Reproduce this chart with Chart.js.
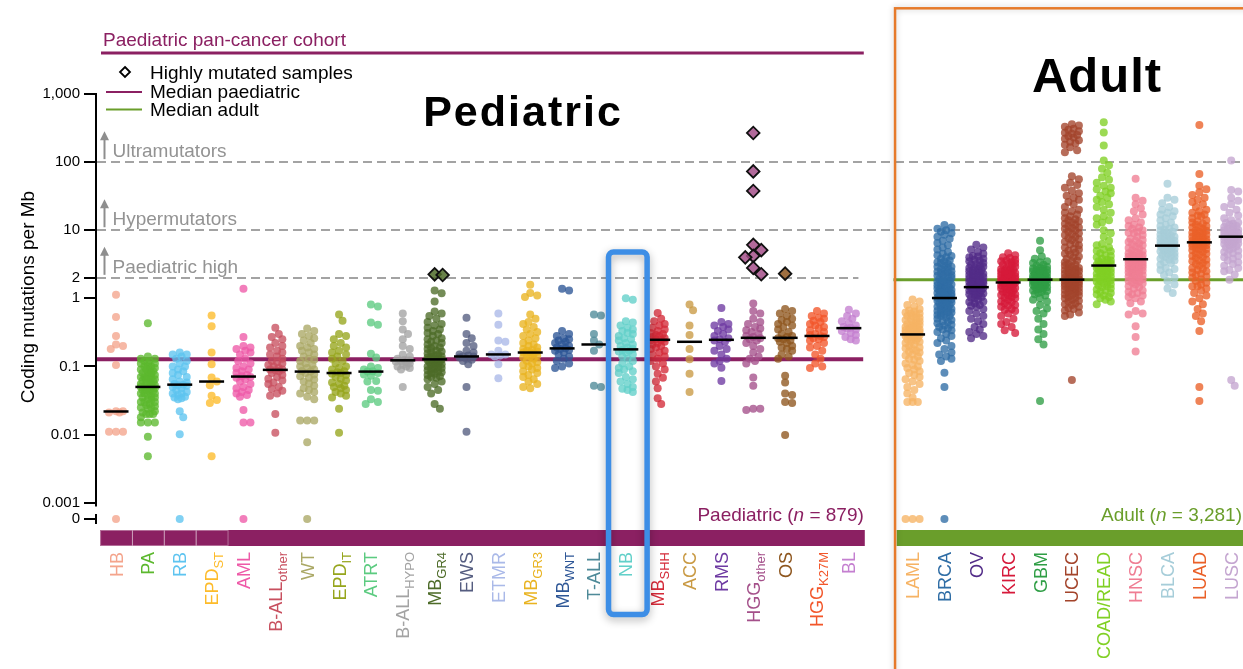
<!DOCTYPE html>
<html>
<head>
<meta charset="utf-8">
<title>Coding mutations per Mb – paediatric vs adult</title>
<script src="https://cdn.jsdelivr.net/npm/chart.js@4.4.1/dist/chart.umd.min.js"></script>
<style>
html,body{margin:0;padding:0;background:#fff;overflow:hidden;}
#wrap{position:relative;width:1243px;height:669px;}
</style>
</head>
<body>
<div id="wrap"><canvas id="chart"></canvas></div>
<script>
// ================= DATA =================
const categories = ['HB','PA','RB','EPD_ST','AML','B-ALL_other','WT','EPD_IT','ATRT','B-ALL_HYPO','MB_GR4','EWS','ETMR','MB_GR3','MB_WNT','T-ALL','NB','MB_SHH','ACC','RMS','HGG_other','OS','HGG_K27M','BL',
  'LAML','BRCA','OV','KIRC','GBM','UCEC','COAD/READ','HNSC','BLCA','LUAD','LUSC'];
const paediatricCount = 24;

const categoryColors = ['#f4a48c','#5cb82e','#5ec4f0','#fdbb2a','#ee5aa8','#c8505f','#aaa865','#96a51c','#5ccb80','#a3a3a3','#4d6b28','#555d80','#aab9e8','#e9b320','#2d5696','#4e8a98','#62d0c9','#d42a38','#c99a44','#6e3aa2','#a4508a','#8e561e','#f2562a','#c47fd0',
  '#f6b364','#2f6da5','#522c88','#d6193a','#2f9e45','#a3442b','#80d024','#ef7d93','#a6cdd9','#ea6028','#c4a5d0'];

// coding mutations per Mb, one array per tumour type (0 = no coding mutation)
const v_HB = [1.13,0.53,0.28,0.21,0.2,0.18,0.105,0.022,0.022,0.021,0.021,0.011,0.011,0.011,0];
const v_PA = [0.43,0.14,0.13,0.13,0.12,0.12,0.11,0.11,0.1,0.1,0.095,0.09,0.09,0.085,0.08,0.08,0.075,0.07,0.07,0.068,0.065,0.062,0.06,0.058,0.055,0.053,0.05,0.05,0.05,0.048,0.046,0.045,0.044,0.042,0.04,0.04,0.038,0.036,0.035,0.033,0.032,0.03,0.03,0.028,0.027,0.026,0.025,0.024,0.022,0.021,0.02,0.02,0.018,0.015,0.015,0.015,0.0093,0.0048,
  0.11,0.1,0.09,0.075,0.065,0.055,0.045,0.035,0.03,0.025,0.02,0.06,0.07,0.08,0.05,0.04];
const v_RB = [0.16,0.15,0.15,0.14,0.13,0.12,0.11,0.1,0.1,0.09,0.085,0.08,0.075,0.07,0.065,0.06,0.058,0.055,0.054,0.053,0.052,0.05,0.048,0.045,0.042,0.04,0.04,0.038,0.036,0.035,0.034,0.033,0.022,0.018,0.0101,0];
const v_EPD_ST = [0.56,0.39,0.16,0.108,0.069,0.06,0.053,0.037,0.032,0.029,0.0048];
const v_AML = [1.38,0.27,0.2,0.19,0.18,0.17,0.16,0.15,0.13,0.12,0.11,0.1,0.095,0.09,0.085,0.08,0.075,0.072,0.07,0.068,0.065,0.06,0.055,0.05,0.048,0.045,0.042,0.04,0.038,0.036,0.023,0.015,0.015,0];
const v_BALL_other = [0.37,0.3,0.27,0.25,0.22,0.2,0.19,0.17,0.16,0.15,0.14,0.13,0.12,0.115,0.11,0.105,0.1,0.095,0.09,0.09,0.088,0.085,0.08,0.075,0.07,0.066,0.062,0.058,0.055,0.05,0.047,0.044,0.04,0.037,0.02,0.0106];
const v_WT = [0.36,0.33,0.3,0.28,0.26,0.24,0.22,0.2,0.19,0.18,0.17,0.16,0.15,0.14,0.13,0.125,0.12,0.11,0.105,0.1,0.095,0.09,0.086,0.084,0.08,0.076,0.072,0.068,0.064,0.06,0.056,0.052,0.048,0.045,0.042,0.04,0.036,0.033,0.016,0.016,0.016,0.0077,0];
const v_EPD_IT = [0.58,0.47,0.3,0.28,0.25,0.22,0.2,0.19,0.17,0.16,0.15,0.14,0.13,0.12,0.11,0.1,0.095,0.09,0.085,0.082,0.08,0.078,0.075,0.07,0.066,0.062,0.058,0.055,0.052,0.05,0.048,0.045,0.042,0.04,0.037,0.035,0.024,0.0106];
const v_ATRT = [0.81,0.76,0.44,0.41,0.154,0.135,0.1,0.095,0.09,0.085,0.084,0.08,0.076,0.073,0.061,0.06,0.045,0.044,0.033,0.03,0.028];
const v_BALL_HYPO = [0.6,0.46,0.35,0.3,0.25,0.2,0.18,0.15,0.14,0.13,0.125,0.123,0.12,0.118,0.115,0.11,0.105,0.1,0.1,0.095,0.09,0.05];
const v_MB_GR4 = [1.3,1.19,0.9,0.64,0.6,0.55,0.5,0.45,0.42,0.4,0.37,0.35,0.33,0.31,0.3,0.28,0.26,0.25,0.24,0.23,0.22,0.21,0.2,0.19,0.185,0.18,0.17,0.165,0.16,0.155,0.15,0.145,0.14,0.14,0.135,0.13,0.13,0.128,0.126,0.124,0.12,0.12,0.118,0.115,0.112,0.11,0.108,0.105,0.1,0.1,0.098,0.095,0.092,0.09,0.088,0.085,0.082,0.08,0.078,0.075,0.072,0.07,0.068,0.065,0.06,0.055,0.05,0.045,0.04,0.028,0.024];
const v_EWS = [0.52,0.3,0.26,0.22,0.2,0.17,0.16,0.15,0.145,0.14,0.14,0.135,0.13,0.125,0.12,0.108,0.05,0.011];
const v_ETMR = [0.6,0.41,0.24,0.23,0.17,0.15,0.15,0.145,0.14,0.108,0.067];
const v_MB_GR3 = [1.58,1.2,1.1,1.05,0.58,0.5,0.45,0.42,0.38,0.35,0.32,0.3,0.28,0.26,0.24,0.22,0.21,0.2,0.19,0.18,0.175,0.17,0.165,0.16,0.16,0.155,0.15,0.145,0.14,0.135,0.13,0.12,0.115,0.11,0.105,0.1,0.095,0.09,0.085,0.08,0.075,0.07,0.065,0.06,0.055,0.05,0.048];
const v_MB_WNT = [1.38,1.3,0.33,0.3,0.28,0.26,0.25,0.24,0.23,0.22,0.21,0.2,0.19,0.185,0.18,0.175,0.17,0.16,0.15,0.14,0.13,0.12,0.11,0.1,0.095];
const v_TALL = [0.58,0.56,0.3,0.24,0.21,0.17,0.052,0.05];
const v_NB = [1.0,0.95,0.46,0.44,0.4,0.37,0.35,0.33,0.31,0.3,0.28,0.26,0.25,0.24,0.22,0.21,0.2,0.19,0.18,0.175,0.17,0.165,0.16,0.15,0.14,0.13,0.12,0.11,0.1,0.095,0.09,0.085,0.08,0.07,0.065,0.06,0.055,0.05,0.047,0.045,0.042];
const v_MB_SHH = [0.61,0.5,0.46,0.42,0.4,0.37,0.35,0.33,0.31,0.3,0.29,0.28,0.27,0.26,0.25,0.245,0.24,0.23,0.22,0.21,0.2,0.19,0.18,0.17,0.16,0.15,0.14,0.13,0.12,0.11,0.1,0.09,0.078,0.068,0.06,0.048,0.034,0.028];
const v_ACC = [0.81,0.67,0.4,0.29,0.18,0.127,0.078,0.042];
const v_RMS = [0.72,0.45,0.42,0.4,0.38,0.35,0.33,0.3,0.28,0.26,0.25,0.24,0.23,0.2,0.18,0.17,0.15,0.13,0.12,0.11,0.096,0.061];
const v_HGG_other = [0.84,0.65,0.6,0.5,0.45,0.42,0.38,0.36,0.34,0.32,0.3,0.28,0.27,0.26,0.25,0.24,0.22,0.2,0.18,0.16,0.14,0.13,0.12,0.11,0.069,0.052,0.024,0.023,0.024];
const v_OS = [0.7,0.65,0.6,0.55,0.5,0.48,0.45,0.42,0.4,0.38,0.35,0.32,0.3,0.28,0.27,0.26,0.25,0.24,0.23,0.22,0.2,0.19,0.18,0.17,0.15,0.14,0.13,0.073,0.058,0.04,0.038,0.03,0.029,0.0098];
const v_HGG_K27M = [0.65,0.6,0.55,0.52,0.5,0.47,0.45,0.42,0.4,0.38,0.36,0.34,0.32,0.3,0.29,0.28,0.27,0.26,0.25,0.24,0.22,0.2,0.19,0.17,0.15,0.13,0.11,0.1,0.095];
const v_BL = [0.68,0.6,0.55,0.5,0.46,0.43,0.4,0.38,0.37,0.36,0.35,0.33,0.31,0.29,0.27,0.25,0.24];

const v_LAML = [0.96,0.9,0.8,0.75,0.7,0.66,0.64,0.62,0.6,0.6,0.58,0.55,0.55,0.52,0.5,0.5,0.48,0.46,0.45,0.44,0.42,0.4,0.4,0.38,0.38,0.36,0.36,0.35,0.34,0.34,0.33,0.32,0.32,0.31,0.31,0.3,0.3,0.29,0.28,0.27,0.26,0.25,0.24,0.23,0.22,0.2,0.19,0.18,0.17,0.16,0.15,0.14,0.13,0.12,0.11,0.1,0.095,0.09,0.085,0.08,0.075,0.07,0.065,0.06,0.055,0.05,0.045,0.04,0.035,0.03,0.03,0.03,0,0,0,
  0.41,0.37,0.33,0.29,0.27,0.25,0.23,0.21,0.185,0.165,0.145,0.125,0.105];
const v_BRCA = [11.9,11,10.5,10,9.5,9,8.6,8,7.5,7,6.5,6,5.6,5.2,4.8,4.5,4.2,4,3.8,3.6,3.4,3.2,3,2.9,2.8,2.6,2.5,2.4,2.3,2.2,2.1,2,1.9,1.85,1.8,1.7,1.65,1.6,1.5,1.45,1.4,1.35,1.3,1.25,1.2,1.15,1.1,1.06,1.03,1,0.97,0.94,0.9,0.87,0.84,0.8,0.77,0.74,0.7,0.68,0.65,0.62,0.6,0.57,0.55,0.52,0.5,0.48,0.45,0.43,0.4,0.38,0.36,0.34,0.32,0.3,0.28,0.26,0.24,0.22,0.2,0.18,0.16,0.15,0.14,0.13,0.12,0.081,0.05,0,
  0.55,0.65,0.75,0.85,0.95,1.08,1.18,1.28,1.38,1.55,1.75,2.05,2.35,2.7,3.3,
  0.58,0.63,0.72,0.82,0.92,1.02,1.12,1.22,1.32,1.42,1.62,1.82,2.15,2.45,2.9,3.5,4.3,0.46,0.41,0.35];
const v_OV = [6.1,5.6,5.2,4.8,4.5,4.2,4,3.7,3.5,3.3,3.1,2.9,2.8,2.6,2.5,2.4,2.3,2.2,2.1,2,1.9,1.8,1.75,1.7,1.65,1.6,1.55,1.5,1.47,1.44,1.4,1.35,1.3,1.25,1.2,1.15,1.1,1.05,1,0.95,0.9,0.85,0.8,0.75,0.7,0.65,0.6,0.55,0.5,0.46,0.42,0.38,0.35,0.32,0.3,0.28,0.26,
  2.45,2.15,1.95,1.78,1.62,1.52,1.38,1.28,1.18,3.8,3.0,2.7,
  1.32,1.42,1.58,1.68,1.85,2.05,2.25,2.55,2.85,3.2,3.6,1.12,1.02,0.88,0.78,4.1];
const v_KIRC = [4.6,4.3,4,3.7,3.5,3.3,3.1,2.9,2.7,2.6,2.5,2.4,2.3,2.2,2.1,2,1.95,1.9,1.85,1.8,1.75,1.72,1.7,1.65,1.6,1.55,1.5,1.45,1.4,1.35,1.3,1.25,1.2,1.15,1.1,1.05,1,0.95,0.9,0.85,0.8,0.75,0.7,0.65,0.6,0.55,0.5,0.45,0.42,0.38,0.34,0.31,
  3.9,3.4,3.0,2.8,2.65,2.35,2.15,2.05,1.98,1.88,1.78,
  1.02,1.12,1.22,1.32,1.42,1.52,1.62,1.68,1.82,1.92,2.25,2.45,2.55,0.88,0.78,0.68,3.2,3.6];
const v_GBM = [7,5.1,4.1,3.8,3.5,3.3,3.1,2.9,2.8,2.7,2.6,2.5,2.4,2.3,2.2,2.1,2.05,2,1.95,1.9,1.88,1.85,1.8,1.75,1.7,1.65,1.6,1.55,1.5,1.45,1.4,1.3,1.2,1.1,1,0.95,0.9,0.8,0.71,0.65,0.6,0.5,0.42,0.35,0.3,0.25,0.21,0.031,
  2.6,2.45,2.25,2.15,1.98,1.92,1.82,1.78,1.72,1.62,1.52,1.35,1.25,
  1.15,1.28,1.38,1.48,1.58,1.68,1.78,1.86,2.02,2.12,2.35,2.55,2.75,3.0,3.4];
const v_UCEC = [360,345,330,310,300,285,270,260,250,240,230,220,210,200,190,180,165,150,140,
  62,56,50,46,42,38,35,32,30,28,26,24,22,20,19,18,17,16,15,14.5,14,13,12.5,12,11.5,11,10.5,10,9.5,9,8.5,8,7.6,7.2,6.8,6.4,6,5.6,5.3,5,4.7,4.4,4.1,3.8,3.6,3.4,3.2,3,2.9,2.8,2.7,2.6,2.5,2.4,2.3,2.2,2.1,2.05,2,1.95,1.9,1.88,1.85,1.8,1.75,1.7,1.65,1.6,1.55,1.5,1.45,1.4,1.35,1.3,1.25,1.2,1.15,1.1,1.05,1,0.95,0.9,0.85,0.8,0.75,0.7,0.66,0.62,0.58,0.55,0.063,
  1.02,1.12,1.22,1.32,1.42,1.52,1.62,1.72,1.82,2.15,2.35,2.55,2.75,3.1,3.5,4.0,4.5,5.2,6.2,7.4,8.8,10.8,13.5,0.72,0.82,0.92];
const v_COAD_READ = [385,272,176,106,90,80,70,60,55,50,45,42,40,37,35,32,30,28,26,24,22,20,18,16,15,14,13,12,10,9,8,7,6.3,6,5.6,5.2,4.9,4.6,4.3,4,3.8,3.6,3.4,3.2,3.1,3,2.9,2.8,2.7,2.6,2.5,2.4,2.3,2.2,2.1,2,1.9,1.8,1.7,1.6,1.5,1.4,1.3,1.2,1.1,1,0.9,0.82,
  3.5,3.3,2.95,2.75,2.45,2.25,1.95,1.65,1.25,
  0.95,1.05,1.15,1.35,1.45,1.55,1.75,1.85,2.05,2.35,2.65,3.25,3.7,4.2,5.0];
const v_HNSC = [57,30,27,24,21,19,17,15,14,13,12,11,10.5,10,9.5,9,8.5,8,7.5,7,6.7,6.4,6,5.7,5.4,5.1,4.8,4.6,4.4,4.2,4,3.9,3.8,3.7,3.6,3.5,3.4,3.3,3.2,3.1,3,2.9,2.8,2.7,2.6,2.5,2.4,2.3,2.2,2.1,2,1.9,1.8,1.7,1.6,1.5,1.4,1.3,1.2,1.1,1,0.9,0.85,0.65,0.6,0.58,0.39,0.27,0.165,
  5.5,4.9,4.3,3.75,3.35,2.95,2.55,2.15,1.75,
  1.05,1.15,1.25,1.45,1.65,1.85,2.05,2.35,2.65,2.85,3.15,3.45,4.1,4.5,6.2,7.2,9.2,11.5];
const v_BLCA = [48,30,28,25,22,20,19,18,17,16,15,14,13,12,11.5,11,10.5,10,9.5,9,8.6,8.2,7.8,7.4,7,6.7,6.4,6.1,5.9,5.7,5.4,5.1,4.8,4.5,4.2,4,3.7,3.4,3.1,2.8,2.6,2.4,2.2,2,1.8,1.6,1.4,1.2,
  8,7.2,6.5,6,5.5,5,4.6,4.1,3.6,
  3.8,4.3,4.9,5.3,5.8,6.3,6.9,7.6,8.4,9.3,10.2,2.7,3.3];
const v_LUAD = [350,67,45,40,36,33,30,28,26,24,22,20,19,18,17,16,15,14,13,12.5,12,11.5,11,10.5,10,9.5,9,8.6,8.2,7.8,7.4,7,6.8,6.6,6.4,6.2,6,5.7,5.4,5.1,4.8,4.5,4.2,3.9,3.6,3.3,3,2.8,2.6,2.4,2.2,2,1.8,1.6,1.4,1.2,1,0.9,0.82,0.7,0.6,0.55,0.46,0.33,0.05,0.031,
  9.8,8.8,7.6,6.7,5.9,5.2,4.4,3.7,3.1,2.5,1.9,1.5,
  1.1,1.3,1.5,1.7,2.1,2.3,2.7,3.2,3.5,4.0,4.6,5.3,5.8,6.3,6.9,7.2,8.0,9.2,11.2,13.5,16.5];
const v_LUSC = [106,39,37,30,27,24,22,20,18,16.5,15,14,13,12.5,12,11.5,11,10.5,10,9.5,9,8.7,8.4,8.1,7.8,7.5,7.2,6.9,6.6,6.3,6,5.6,5.2,4.8,4.4,4,3.6,3.2,2.8,2.5,2.24,1.88,0.063,0.052,
  10.2,9.2,8.2,7.6,7,6.2,5.4,4.6,
  3.4,3.8,4.2,5.0,5.8,6.4,7.3,8.0,8.9,9.8,11.2,12.8,2.6,3.0];

const seriesValues = [v_HB,v_PA,v_RB,v_EPD_ST,v_AML,v_BALL_other,v_WT,v_EPD_IT,v_ATRT,v_BALL_HYPO,v_MB_GR4,v_EWS,v_ETMR,v_MB_GR3,v_MB_WNT,v_TALL,v_NB,v_MB_SHH,v_ACC,v_RMS,v_HGG_other,v_OS,v_HGG_K27M,v_BL,
  v_LAML,v_BRCA,v_OV,v_KIRC,v_GBM,v_UCEC,v_COAD_READ,v_HNSC,v_BLCA,v_LUAD,v_LUSC];

const categoryMedians = [0.0218,0.05,0.054,0.06,0.071,0.089,0.084,0.08,0.084,0.123,0.127,0.14,0.15,0.16,0.184,0.21,0.178,0.246,0.23,0.246,0.263,0.263,0.28,0.365,
  0.295,1.01,1.46,1.71,1.88,1.88,3.03,3.75,5.94,6.64,8.04];

// highly mutated samples (diamonds)
const highlyMutatedCategory = ['MB_GR4','MB_GR4','HGG_other','HGG_other','HGG_other','HGG_other','HGG_other','HGG_other','HGG_other','HGG_other','HGG_other','OS'];
const highlyMutatedValues   = [2.25,2.2,268,73,37.7,6.1,5.1,4.2,4.0,2.8,2.26,2.3];

const medianPaediatric = 0.128;
const medianAdult = 1.88;
const yTickValues = [0,0.001,0.01,0.1,1,2,10,100,1000];
const yTickLabels = ['0','0.001','0.01','0.1','1','2','10','100','1,000'];
const thresholdValues = [100,10,2];
const thresholdLabels = ['Ultramutators','Hypermutators','Paediatric high'];
const paediatricN = '879';
const adultN = '3,281';

// ================= RENDERING =================
const FONT = '"Liberation Sans", Arial, Helvetica, sans-serif';
const ZERO_AT = Math.pow(10, -3.241);         // where the broken axis puts "0"
const Y_MIN = Math.pow(10, -3.358), Y_MAX = Math.pow(10, 4.19);
const PURPLE = '#8b2062', GREEN = '#6a9e2b';
const plotVal = v => (v === 0 ? ZERO_AT : v);
const xPos = i => (i < paediatricCount ? i : i + 1);
function hexA(hex, a){const n=parseInt(hex.slice(1),16);return `rgba(${n>>16&255},${n>>8&255},${n&255},${a})`;}

const pointDatasets = seriesValues.map((vals, i) => ({
  type: 'scatter', label: categories[i],
  data: vals.map(v => ({x: xPos(i), y: plotVal(v)})),
  backgroundColor: hexA(categoryColors[i], 0.78), borderWidth: 0,
  pointRadius: 4, pointHoverRadius: 4, order: 3
}));
const medianDataset = {
  type: 'scatter', label: 'Median',
  data: categoryMedians.map((m, i) => ({x: xPos(i), y: m})),
  pointStyle: 'line', pointRadius: 12.5, borderColor: '#000', borderWidth: 2.5, order: 1
};
const hmIdx = highlyMutatedCategory.map(k => categories.indexOf(k));
const diamondDataset = {
  type: 'scatter', label: 'Highly mutated samples',
  data: highlyMutatedValues.map((v, j) => ({x: xPos(hmIdx[j]), y: v})),
  pointStyle: 'rectRot', pointRadius: 6.3,
  backgroundColor: hmIdx.map(i => hexA(categoryColors[i], 0.85)),
  borderColor: '#111', borderWidth: 1.8, order: 0
};

function textParts(ctx, parts, xRight, y, size, color){
  const ws = parts.map(p => { ctx.font = (p[1] ? 'italic ' : '') + size + 'px ' + FONT; return ctx.measureText(p[0]).width; });
  let x = xRight - ws.reduce((a,b)=>a+b,0);
  ctx.fillStyle = color; ctx.textAlign = 'left'; ctx.textBaseline = 'alphabetic';
  parts.forEach((p, k) => { ctx.font = (p[1] ? 'italic ' : '') + size + 'px ' + FONT; ctx.fillText(p[0], x, y); x += ws[k]; });
}

const decor = {
  id: 'decor',
  beforeDatasetsDraw(chart){
    const {ctx, chartArea: ca, scales: {x: xs, y: ys}} = chart;
    const pedRight = xs.getPixelForValue(23.3);
    ctx.save();
    ctx.strokeStyle = '#a3a3a3'; ctx.lineWidth = 2; ctx.setLineDash([9,5]);
    thresholdValues.forEach(v => {
      const y = Math.round(ys.getPixelForValue(v));
      ctx.beginPath(); ctx.moveTo(ca.left + 1, y); ctx.lineTo(v === 2 ? pedRight : chart.width, y); ctx.stroke();
    });
    ctx.setLineDash([]);
    thresholdValues.forEach((v, k) => {
      const y = ys.getPixelForValue(v);
      const ax = ca.left + 8.5;
      ctx.strokeStyle = '#8e8e8e'; ctx.fillStyle = '#8e8e8e'; ctx.lineWidth = 2;
      ctx.beginPath(); ctx.moveTo(ax, y - 3); ctx.lineTo(ax, y - 24); ctx.stroke();
      ctx.beginPath(); ctx.moveTo(ax - 4.5, y - 22); ctx.lineTo(ax + 4.5, y - 22); ctx.lineTo(ax, y - 31); ctx.closePath(); ctx.fill();
      ctx.fillStyle = '#939393'; ctx.font = '19px ' + FONT; ctx.textAlign = 'left'; ctx.textBaseline = 'alphabetic';
      ctx.fillText(thresholdLabels[k], ax + 8, y - 5);
    });
    const yp = ys.getPixelForValue(medianPaediatric);
    ctx.strokeStyle = PURPLE; ctx.lineWidth = 4;
    ctx.beginPath(); ctx.moveTo(ca.left, yp); ctx.lineTo(xs.getPixelForValue(23.45), yp); ctx.stroke();
    const ya = ys.getPixelForValue(medianAdult);
    ctx.strokeStyle = GREEN; ctx.lineWidth = 3;
    ctx.beginPath(); ctx.moveTo(xs.getPixelForValue(24.4), ya); ctx.lineTo(chart.width, ya); ctx.stroke();
    ctx.restore();
  },
  afterDraw(chart){
    const {ctx, chartArea: ca, scales: {x: xs, y: ys}} = chart;
    ctx.save();
    ctx.strokeStyle = '#000'; ctx.lineWidth = 2;
    const axX = ca.left;
    ctx.beginPath(); ctx.moveTo(axX, ys.getPixelForValue(1000) - 1); ctx.lineTo(axX, ys.getPixelForValue(0.001) + 4); ctx.stroke();
    const yz = ys.getPixelForValue(ZERO_AT);
    ctx.beginPath(); ctx.moveTo(axX, yz - 5); ctx.lineTo(axX, yz + 5); ctx.stroke();
    ctx.save(); ctx.translate(29, 297); ctx.rotate(-Math.PI/2);
    ctx.fillStyle = '#000'; ctx.font = '19px ' + FONT; ctx.textAlign = 'center'; ctx.textBaseline = 'middle';
    ctx.fillText('Coding mutations per Mb', 0, 0); ctx.restore();
    const bandTop = 530, bandH = 16;
    const pl = xs.getPixelForValue(-0.5), pr = xs.getPixelForValue(23.5);
    ctx.fillStyle = PURPLE; ctx.fillRect(pl, bandTop, pr - pl, bandH);
    ctx.strokeStyle = 'rgba(255,255,255,0.35)'; ctx.lineWidth = 1;
    for (let i = 0; i < 4; i++) {
      const a = xs.getPixelForValue(i - 0.5), b = xs.getPixelForValue(i + 0.5);
      ctx.strokeRect(a + 0.5, bandTop + 0.5, b - a, bandH - 1);
    }
    const gl = xs.getPixelForValue(24.5);
    ctx.fillStyle = GREEN; ctx.fillRect(gl, bandTop, chart.width - gl, bandH);
    textParts(ctx, [['Paediatric (',0],['n',1],[' = ' + paediatricN + ')',0]], pr - 1, 521, 19, PURPLE);
    textParts(ctx, [['Adult (',0],['n',1],[' = ' + adultN + ')',0]], chart.width - 1, 521, 19, GREEN);
    categories.forEach((key, i) => {
      const [main, sub] = key.split('_');
      const x = xs.getPixelForValue(xPos(i));
      ctx.save(); ctx.translate(x, 552); ctx.rotate(-Math.PI/2);
      ctx.font = '18px ' + FONT; const wm = ctx.measureText(main).width;
      ctx.font = '13px ' + FONT; const wsb = sub ? ctx.measureText(sub).width : 0;
      ctx.fillStyle = categoryColors[i]; ctx.textAlign = 'left'; ctx.textBaseline = 'alphabetic';
      ctx.font = '18px ' + FONT; ctx.fillText(main, -(wm + wsb), 6.5);
      if (sub) { ctx.font = '13px ' + FONT; ctx.fillText(sub, -wsb, 11.5); }
      ctx.restore();
    });
    ctx.fillStyle = PURPLE; ctx.font = '19px ' + FONT; ctx.textAlign = 'left'; ctx.textBaseline = 'alphabetic';
    ctx.fillText('Paediatric pan-cancer cohort', 103, 46);
    ctx.strokeStyle = PURPLE; ctx.lineWidth = 3;
    ctx.beginPath(); ctx.moveTo(101, 53); ctx.lineTo(pr - 1, 53); ctx.stroke();
    ctx.fillStyle = '#fff'; ctx.strokeStyle = '#000'; ctx.lineWidth = 1.8;
    ctx.beginPath(); ctx.moveTo(125, 67); ctx.lineTo(130, 72); ctx.lineTo(125, 77); ctx.lineTo(120, 72); ctx.closePath(); ctx.fill(); ctx.stroke();
    ctx.lineWidth = 2;
    ctx.strokeStyle = PURPLE; ctx.beginPath(); ctx.moveTo(106, 92); ctx.lineTo(142, 92); ctx.stroke();
    ctx.strokeStyle = GREEN; ctx.beginPath(); ctx.moveTo(106, 109.5); ctx.lineTo(142, 109.5); ctx.stroke();
    ctx.fillStyle = '#000'; ctx.font = '19px ' + FONT;
    ctx.fillText('Highly mutated samples', 150, 78.5);
    ctx.fillText('Median paediatric', 150, 97.5);
    ctx.fillText('Median adult', 150, 115.5);
    ctx.textAlign = 'center';
    ctx.font = 'bold 43px ' + FONT;
    if ('letterSpacing' in ctx) ctx.letterSpacing = '2px';
    ctx.fillText('Pediatric', 523, 126);
    ctx.font = 'bold 49px ' + FONT;
    if ('letterSpacing' in ctx) ctx.letterSpacing = '1px';
    ctx.fillText('Adult', 1097, 92);
    if ('letterSpacing' in ctx) ctx.letterSpacing = '0px';
    ctx.save();
    ctx.shadowColor = 'rgba(0,0,0,0.22)'; ctx.shadowBlur = 6;
    ctx.strokeStyle = '#e67a2a'; ctx.lineWidth = 2.5;
    ctx.strokeRect(xs.getPixelForValue(24.45), 8.3, 400, 700);
    ctx.restore();
    const cx = xs.getPixelForValue(16) + 2;
    ctx.save();
    ctx.shadowColor = 'rgba(0,0,0,0.3)'; ctx.shadowBlur = 8; ctx.shadowOffsetY = 3;
    ctx.strokeStyle = '#3d8ee6'; ctx.lineWidth = 5.5;
    ctx.beginPath();
    if (ctx.roundRect) ctx.roundRect(cx - 19.3, 252, 38.6, 362.5, 5); else ctx.rect(cx - 19.3, 252, 38.6, 362.5);
    ctx.stroke();
    ctx.restore();
    ctx.restore();
  }
};

const chart = new Chart(document.getElementById('chart'), {
  type: 'scatter',
  data: { datasets: [diamondDataset, medianDataset, ...pointDatasets] },
  options: {
    responsive: true, maintainAspectRatio: false, animation: false, events: [],
    layout: { autoPadding: false, padding: { top: 10, bottom: 142, left: 0, right: 0 } },
    plugins: { legend: { display: false }, tooltip: { enabled: false } },
    scales: {
      x: { type: 'linear', min: -0.628, max: 35.37, display: false },
      y: {
        type: 'logarithmic', min: Y_MIN, max: Y_MAX, bounds: 'data',
        afterBuildTicks: s => { s.ticks = yTickValues.map(v => ({ value: plotVal(v) })); },
        afterFit: s => { s.width = 96; },
        ticks: {
          autoSkip: false, padding: 4, color: '#000', font: { family: FONT, size: 15 },
          callback: (v) => { const k = yTickValues.findIndex(t => Math.abs(Math.log10(plotVal(t)) - Math.log10(v)) < 1e-6); return k >= 0 ? yTickLabels[k] : ''; }
        },
        grid: { display: true, drawOnChartArea: false, drawTicks: true, tickLength: 12, color: '#000', lineWidth: 2 },
        border: { display: false }
      }
    }
  },
  plugins: [decor]
});

// ---- beeswarm layout of the points (computed from the scales) ----
function swarm(yPix, maxOff, minD, step){
  const order = yPix.map((_, i) => i).sort((a, b) => yPix[a] - yPix[b]);
  const cands = [0]; for (let k = step; k <= maxOff + 1e-6; k += step) cands.push(k, -k);
  const placed = [], off = new Array(yPix.length).fill(0);
  for (const i of order) {
    const y = yPix[i]; let chosen = null, best = 0, bestD = -1;
    for (const c of cands) {
      let md = Infinity;
      for (const p of placed) { const dy = p.y - y; if (Math.abs(dy) >= minD) continue; const d = Math.hypot(p.x - c, dy); if (d < md) md = d; }
      if (md >= minD) { chosen = c; break; }
      if (md > bestD) { bestD = md; best = c; }
    }
    if (chosen === null) chosen = best;
    off[i] = chosen; placed.push({ x: chosen, y });
  }
  return off;
}
(function layoutSwarm(){
  const xs = chart.scales.x, ys = chart.scales.y;
  const pxPerUnit = xs.getPixelForValue(1) - xs.getPixelForValue(0);
  seriesValues.forEach((vals, i) => {
    const yPix = vals.map(v => ys.getPixelForValue(plotVal(v)));
    const off = swarm(yPix, 7, 6.5, 1.75);
    pointDatasets[i].data = vals.map((v, j) => ({ x: xPos(i) + off[j] / pxPerUnit, y: plotVal(v) }));
  });
  const groups = {};
  hmIdx.forEach((ci, j) => { (groups[ci] = groups[ci] || []).push(j); });
  Object.keys(groups).forEach(ci => {
    const js = groups[ci];
    const yPix = js.map(j => ys.getPixelForValue(highlyMutatedValues[j]));
    const off = swarm(yPix, 8, 9, 2);
    js.forEach((j, k) => { diamondDataset.data[j] = { x: xPos(+ci) + off[k] / pxPerUnit, y: highlyMutatedValues[j] }; });
  });
  chart.update();
})();
</script>
</body>
</html>
